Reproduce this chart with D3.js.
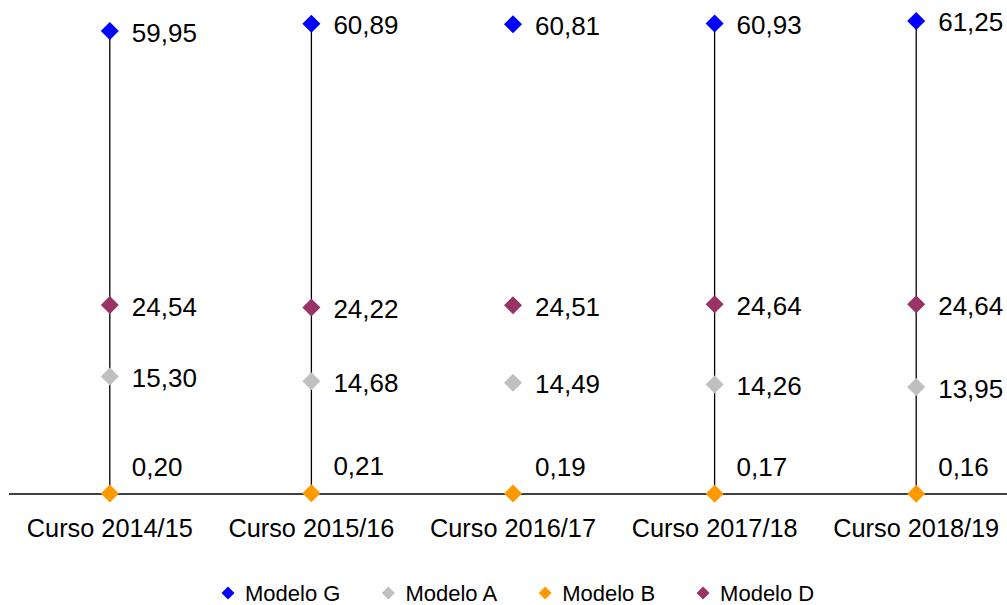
<!DOCTYPE html>
<html>
<head>
<meta charset="utf-8">
<script src="https://cdn.jsdelivr.net/npm/d3@7"></script>
<style>
	body { margin: 0; background: #fff; }
	text { font-family: "Liberation Sans", Arial, sans-serif; fill: #000; }
</style>
</head>
<body>
<div id="chart"></div>
<script>
var categories = ["Curso 2014/15", "Curso 2015/16", "Curso 2016/17", "Curso 2017/18", "Curso 2018/19"];
var modeloG = [59.95, 60.89, 60.81, 60.93, 61.25];
var modeloA = [15.30, 14.68, 14.49, 14.26, 13.95];
var modeloB = [0.20, 0.21, 0.19, 0.17, 0.16];
var modeloD = [24.54, 24.22, 24.51, 24.64, 24.64];
// the 2016/17 column has no high-low line in the original
var linked = [true, true, false, true, true];

var series = [
	{name: "Modelo G", values: modeloG, color: "#0000ff"},
	{name: "Modelo A", values: modeloA, color: "#c0c0c0"},
	{name: "Modelo B", values: modeloB, color: "#ff9900"},
	{name: "Modelo D", values: modeloD, color: "#993366"}
];

var width = 1007, height = 605;

var svg = d3.select("#chart").append("svg")
	.attr("width", width)
	.attr("height", height);

var x = d3.scaleBand()
	.domain(categories)
	.range([9, 1017])
	.padding(0);

var y = d3.scaleLinear()
	.domain([0, 63.95])
	.range([495, 0]);

var cx = function(i) { return x(categories[i]) + x.bandwidth() / 2; };
var fmt = function(v) { return d3.format(".2f")(v).replace(".", ","); };

var diamond = function(r) {
	return "M 0 " + (-r) + " L " + r + " 0 L 0 " + r + " L " + (-r) + " 0 Z";
};

// high-low lines
svg.append("g")
	.selectAll("line")
	.data(categories.filter(function(d, i) { return linked[i]; }))
	.enter().append("line")
		.attr("x1", function(d) { return x(d) + x.bandwidth() / 2; })
		.attr("x2", function(d) { return x(d) + x.bandwidth() / 2; })
		.attr("y1", function(d) { return y(modeloB[categories.indexOf(d)]); })
		.attr("y2", function(d) { return y(modeloG[categories.indexOf(d)]); })
		.attr("stroke", "#000")
		.attr("stroke-width", 1.3);

// category axis
var axis = svg.append("g")
	.attr("transform", "translate(0, 494)")
	.call(d3.axisBottom(x).tickSize(0).tickPadding(25));
axis.select(".domain")
	.attr("d", "M 9 0 H 1007")
	.attr("stroke", "#000")
	.attr("stroke-width", 1.3);
axis.selectAll(".tick text")
	.attr("font-size", 25.3)
	.attr("font-family", "Liberation Sans, Arial, sans-serif")
	.attr("fill", "#000");

// markers and value labels
series.forEach(function(s) {
	var g = svg.append("g");
	g.selectAll("path")
		.data(s.values)
		.enter().append("path")
			.attr("d", diamond(9))
			.attr("fill", s.color)
			.attr("transform", function(d, i) {
				return "translate(" + cx(i) + ", " + y(d) + ")";
			});
	g.selectAll("text")
		.data(s.values)
		.enter().append("text")
			.attr("x", function(d, i) { return cx(i) + 22; })
			.attr("y", function(d) {
				return s.name == "Modelo B" ? y(d) - 27 : y(d) + 1.5;
			})
			.attr("dy", "0.35em")
			.attr("font-size", 26)
			.text(fmt);
});

// legend
var legend = svg.append("g")
	.attr("transform", "translate(0, 593)");
var lx = 228;
series.forEach(function(s) {
	legend.append("path")
		.attr("d", diamond(6.5))
		.attr("fill", s.color)
		.attr("transform", "translate(" + lx + ", 0)");
	var t = legend.append("text")
		.attr("x", lx + 17)
		.attr("dy", "0.35em")
		.attr("font-size", 22)
		.text(s.name);
	lx += 17 + t.node().getComputedTextLength() + 48;
});
</script>
</body>
</html>
